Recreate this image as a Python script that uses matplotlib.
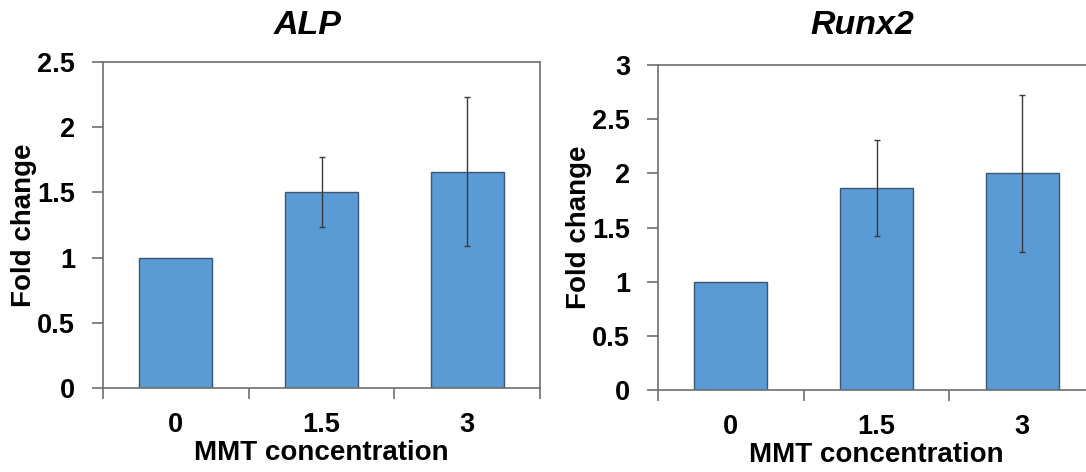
import numpy as np
import matplotlib
matplotlib.use('Agg')
import matplotlib.pyplot as plt
from matplotlib.ticker import FixedLocator

plt.rcParams['font.family'] = ['Liberation Sans', 'DejaVu Sans']
plt.rcParams['font.weight'] = 'bold'

# data
categories = ['0', '1.5', '3']
alp_mean = [1.0, 1.505, 1.66]
alp_err = [0.0, 0.267, 0.57]
runx2_mean = [1.0, 1.863, 2.0]
runx2_err = [0.0, 0.445, 0.724]

alp_ticks = [0, 0.5, 1, 1.5, 2, 2.5]
alp_ticklabels = ['0', '0.5', '1', '1.5', '2', '2.5']
runx2_ticks = [0, 0.5, 1, 1.5, 2, 2.5, 3]
runx2_ticklabels = ['0', '0.5', '1', '1.5', '2', '2.5', '3']

W, H = 1086, 472
fig = plt.figure(figsize=(W / 100, H / 100), dpi=100)

bar_color = '#5B9BD5'
edge_color = '#3b5670'
axis_color = '#6e6e6e'


def panel(rect, means, errs, ticks, ticklabels, title, title_x):
    ax = fig.add_axes(rect)
    x = np.arange(len(means))
    ax.bar(x, means, width=0.5, color=bar_color, edgecolor=edge_color, linewidth=1.0, zorder=2)
    # no error bar drawn for the control bar (error 0)
    has_err = np.array(errs) > 0
    ax.errorbar(x[has_err], np.array(means)[has_err], yerr=np.array(errs)[has_err], fmt='none',
                ecolor='#3a3a3a', elinewidth=1.0, capsize=2, capthick=1.0, zorder=3)
    ax.set_xlim(-0.5, len(means) - 0.5)
    ax.set_ylim(0, ticks[-1])
    ax.set_yticks(ticks)
    ax.set_yticklabels(ticklabels)
    ax.set_xticks(x)
    ax.set_xticklabels(categories)
    ax.xaxis.set_minor_locator(FixedLocator(np.arange(-0.5, len(means), 1.0)))
    ax.tick_params(axis='x', which='major', length=0, pad=17, labelsize=19.5)
    ax.tick_params(axis='x', which='minor', length=8, width=1.2, color=axis_color, direction='out')
    ax.tick_params(axis='y', length=8, width=1.2, color=axis_color, direction='out', pad=12, labelsize=19.5)
    for s in ax.spines.values():
        s.set_color(axis_color)
        s.set_linewidth(1.2)
    ax.set_xlabel('MMT concentration', fontsize=20, fontweight='bold', labelpad=2)
    ax.set_ylabel('Fold change', fontsize=20, fontweight='bold', labelpad=0)
    fig.text(title_x / W, 1 - 25 / H, title, fontsize=24.5, fontweight='bold', style='italic',
             ha='center', va='center')
    return ax


panel([103 / W, 1 - 388 / H, 437 / W, 326 / H], alp_mean, alp_err, alp_ticks, alp_ticklabels, 'ALP', 308)
panel([658 / W, 1 - 390 / H, 437 / W, 325 / H], runx2_mean, runx2_err, runx2_ticks, runx2_ticklabels, 'Runx2', 862)

fig.savefig('out.png', dpi=100)
